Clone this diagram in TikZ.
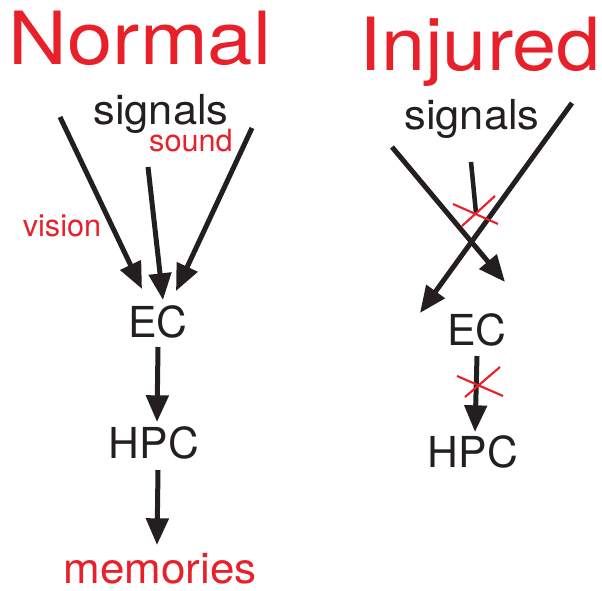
\documentclass[tikz,border=0pt]{standalone}
\usepackage{fontspec}
\setmainfont{TeX Gyre Heros}
\usetikzlibrary{arrows.meta}
\definecolor{myred}{HTML}{E8202A}
\definecolor{myblack}{HTML}{231F20}
\begin{document}
\begin{tikzpicture}[x=0.75pt,y=-0.75pt,
  lbl/.style={inner sep=0pt,anchor=base,text=myblack},
  title/.style={lbl,text=myred,font=\fontsize{55}{60}\selectfont},
  big/.style={lbl,font=\fontsize{32}{36}\selectfont},
  sig/.style={lbl,font=\fontsize{31}{36}\selectfont},
  small/.style={lbl,text=myred,font=\fontsize{23}{26}\selectfont},
  arr/.style={draw=myblack,line width=3.75pt,-{Triangle[length=20pt,width=16.5pt]}},
  bar/.style={draw=myblack,line width=3.4pt},
  cross/.style={draw=myred,line width=1.6pt}]
\useasboundingbox (0,0) rectangle (602,591);
% titles
\node[title] (normal) at (140,65) {\scalebox{1.11}[1]{Normal}};
\node[title] (injured) at (480,71) {\scalebox{1.08}[1]{Injured}};
% left
\node[sig] (sigL) at (161,125) {\scalebox{1.05}[1]{signals}};
\node[small] (sound) at (191,152) {sound};
\node[small] (vision) at (62,237) {vision};
\node[big] (ecL) at (158,337) {EC};
\node[big] (hpcL) at (154,458) {HPC};
\node[big,text=myred] (mem) at (160,583) {\scalebox{1.03}[1]{memories}};
\coordinate (v1) at (60,117);  \coordinate (v2) at (142,289);
\coordinate (s1) at (148,167); \coordinate (s2) at (163,300);
\coordinate (r1) at (252,128); \coordinate (r2) at (176,291);
\coordinate (e1) at (158,347); \coordinate (e2) at (157,422);
\coordinate (h1) at (158,470); \coordinate (h2) at (157,545);
\draw[arr] (v1) -- (v2);
\draw[arr] (s1) -- (s2);
\draw[arr] (r1) -- (r2);
\draw[arr] (e1) -- (e2);
\draw[arr] (h1) -- (h2);
% right
\node[sig] (sigR) at (472,130) {\scalebox{1.05}[1]{signals}};
\node[big] (ecR) at (477,345) {EC};
\node[big] (hpcR) at (473,467) {HPC};
\coordinate (a1) at (392,147); \coordinate (a2) at (505,282);
\coordinate (b1) at (572,103); \coordinate (b2) at (420,313);
\coordinate (m1) at (471,162); \coordinate (m2) at (476,213);
\coordinate (f1) at (477,356); \coordinate (f2) at (475,432);
\draw[arr] (a1) -- (a2);
\draw[arr] (b1) -- (b2);
\draw[bar] (m1) -- (m2);
\draw[arr] (f1) -- (f2);
\coordinate (c1) at (453,204); \coordinate (c2) at (498,224);
\coordinate (c3) at (462,226); \coordinate (c4) at (495,196);
\draw[cross] (c1) -- (c2);
\draw[cross] (c3) -- (c4);
\coordinate (d1) at (457,376); \coordinate (d2) at (503,396);
\coordinate (d3) at (465,397); \coordinate (d4) at (500,367);
\draw[cross] (d1) -- (d2);
\draw[cross] (d3) -- (d4);
\end{tikzpicture}
\end{document}
